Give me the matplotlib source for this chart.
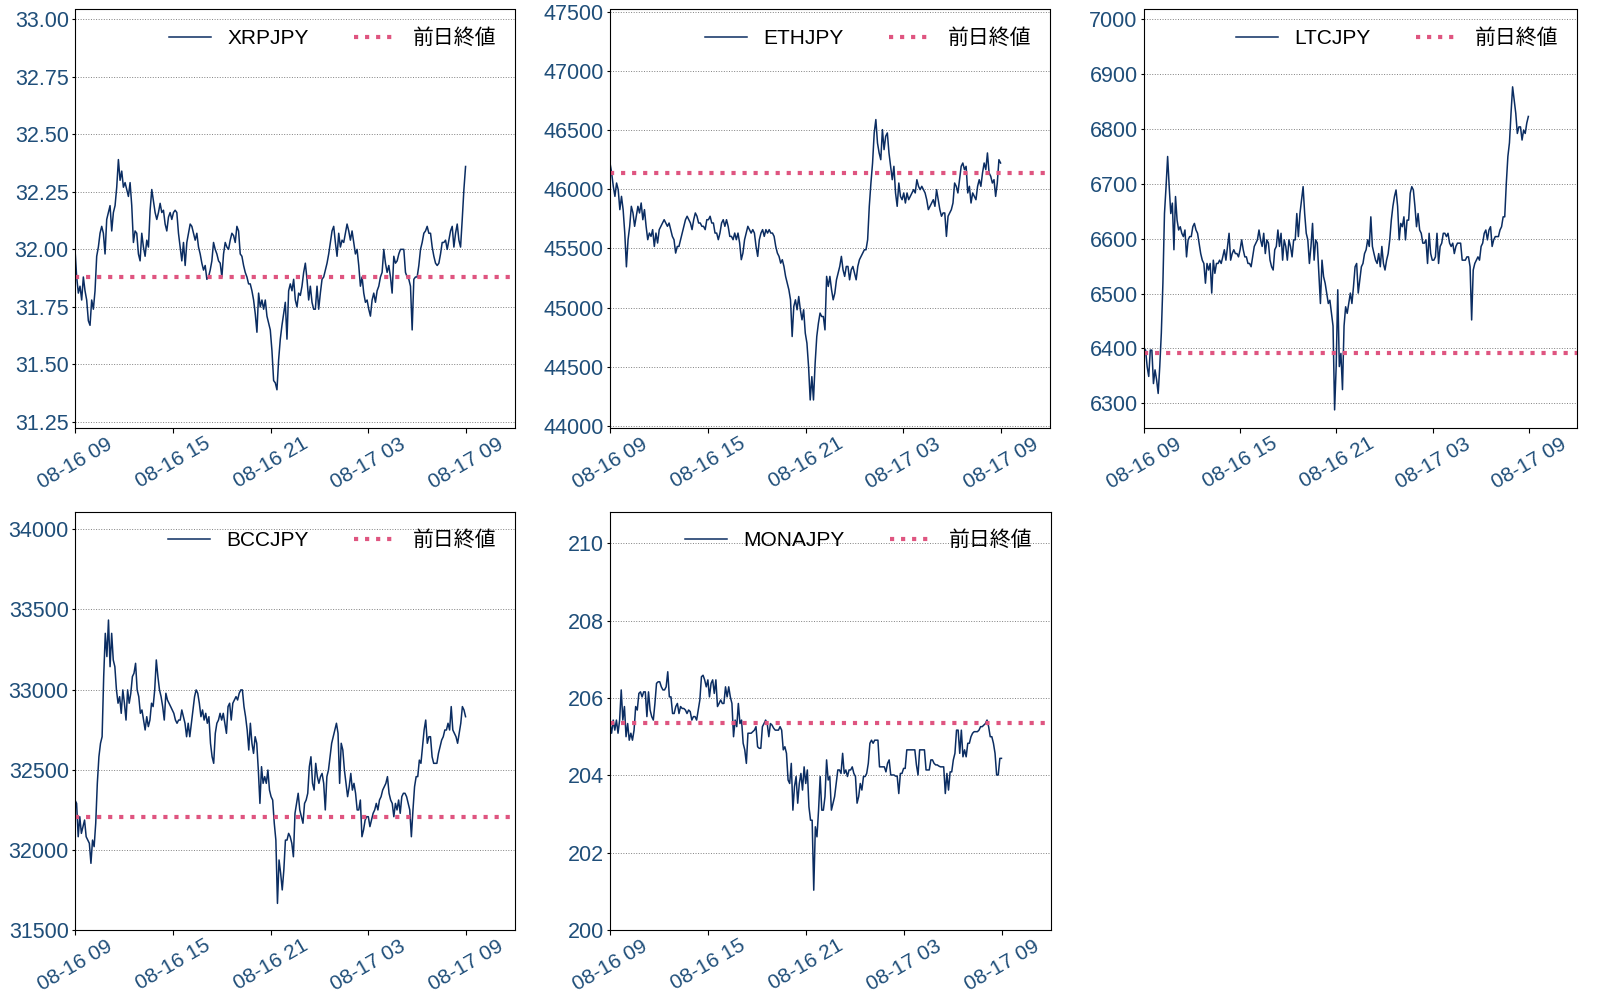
import matplotlib
matplotlib.use('Agg')
import matplotlib.pyplot as plt
import matplotlib.dates as mdates
from matplotlib.ticker import MultipleLocator, FormatStrFormatter
import pandas as pd

plt.rcParams['font.family'] = ['Liberation Sans', 'Noto Sans CJK JP', 'DejaVu Sans']

START = '2017-08-16 09:00'
END = '2017-08-17 08:58'

pairs = ['XRPJPY', 'ETHJPY', 'LTCJPY', 'BCCJPY', 'MONAJPY']

xrp = [32.00, 31.88, 31.81, 31.84, 31.78, 31.88, 31.82, 31.78, 31.69, 31.67,
       31.78, 31.74, 31.82, 31.97, 32.01, 32.07, 32.10, 32.07, 31.98, 32.13,
       32.16, 32.19, 32.08, 32.16, 32.19, 32.27, 32.39, 32.30, 32.34, 32.27,
       32.29, 32.26, 32.23, 32.29, 32.19, 32.03, 32.08, 32.07, 31.98, 31.95,
       32.07, 32.01, 31.97, 32.04, 32.01, 32.17, 32.26, 32.21, 32.16, 32.13,
       32.16, 32.20, 32.16, 32.17, 32.11, 32.08, 32.14, 32.16, 32.13, 32.16,
       32.17, 32.16, 32.07, 32.01, 31.95, 32.03, 31.93, 32.03, 32.07, 32.11,
       32.10, 32.07, 32.04, 32.07, 32.01, 31.98, 31.94, 31.91, 31.93, 31.87,
       31.88, 31.91, 31.95, 32.03, 32.00, 31.98, 31.95, 31.94, 31.88, 31.98,
       32.03, 32.01, 32.00, 32.04, 32.07, 32.06, 32.03, 32.10, 32.08, 31.98,
       31.97, 31.93, 31.90, 31.88, 31.85, 31.85, 31.82, 31.78, 31.72, 31.64,
       31.81, 31.75, 31.78, 31.74, 31.78, 31.71, 31.68, 31.65, 31.56, 31.43,
       31.42, 31.39, 31.52, 31.61, 31.67, 31.72, 31.77, 31.61, 31.82, 31.85,
       31.82, 31.87, 31.78, 31.75, 31.81, 31.80, 31.84, 31.90, 31.94, 31.87,
       31.78, 31.84, 31.77, 31.74, 31.74, 31.84, 31.74, 31.81, 31.87, 31.88,
       31.91, 31.94, 31.98, 32.03, 32.08, 32.10, 32.03, 31.97, 32.07, 32.01,
       32.04, 32.03, 32.07, 32.11, 32.08, 32.04, 32.08, 32.03, 31.98, 32.00,
       31.93, 31.84, 31.88, 31.81, 31.77, 31.78, 31.74, 31.71, 31.78, 31.81,
       31.77, 31.82, 31.84, 31.88, 31.90, 32.00, 31.94, 31.90, 31.93, 31.88,
       31.81, 31.97, 31.94, 31.95, 31.98, 32.00, 32.00, 32.00, 31.90, 31.88,
       31.87, 31.84, 31.65, 31.87, 31.88, 31.88, 31.93, 32.00, 32.03, 32.07,
       32.08, 32.10, 32.07, 32.07, 32.01, 31.97, 31.94, 31.93, 31.94, 31.98,
       32.03, 32.03, 32.04, 32.00, 32.04, 32.08, 32.10, 32.01, 32.07, 32.11,
       32.04, 32.01, 32.13, 32.26, 32.36]

eth = [46222, 46138, 46025, 45940, 46053, 45997, 45828, 45940, 45828, 45630,
       45345, 45574, 45687, 45856, 45800, 45687, 45772, 45856, 45800, 45884,
       45743, 45828, 45687, 45574, 45630, 45602, 45659, 45517, 45630, 45546,
       45659, 45687, 45715, 45743, 45715, 45687, 45715, 45659, 45602, 45574,
       45461, 45517, 45517, 45574, 45630, 45687, 45743, 45772, 45743, 45715,
       45659, 45743, 45800, 45772, 45715, 45715, 45687, 45687, 45659, 45743,
       45743, 45772, 45715, 45715, 45630, 45630, 45574, 45630, 45715, 45743,
       45687, 45743, 45687, 45602, 45602, 45574, 45630, 45574, 45630, 45546,
       45405, 45461, 45574, 45630, 45687, 45659, 45630, 45659, 45630, 45517,
       45433, 45574, 45630, 45659, 45602, 45659, 45630, 45659, 45630, 45630,
       45602, 45517, 45461, 45433, 45376, 45405, 45348, 45264, 45207, 45151,
       45066, 44756, 45010, 45066, 44982, 45094, 44982, 44897, 44982, 44784,
       44700, 44502, 44220, 44417, 44220, 44530, 44756, 44869, 44954, 44925,
       44925, 44812, 45264, 45179, 45264, 45151, 45066, 45122, 45235, 45292,
       45348, 45433, 45320, 45264, 45348, 45348, 45235, 45320, 45348, 45292,
       45235, 45348, 45405, 45433, 45461, 45489, 45489, 45574, 45856, 46053,
       46222, 46476, 46589, 46391, 46307, 46250, 46504, 46335, 46448, 46476,
       46307, 46194, 46081, 46194, 45969, 45856, 46053, 45940, 45912, 45969,
       45884, 45969, 45912, 45940, 45969, 45997, 45969, 46081, 46025, 45997,
       46025, 45997, 45969, 45912, 45828, 45856, 45884, 45912, 45856, 45997,
       45912, 45828, 45772, 45800, 45800, 45602, 45772, 45800, 45828, 45884,
       46053, 46025, 45969, 46081, 46194, 46222, 46166, 46194, 45969, 46025,
       45884, 45969, 45940, 45912, 46025, 46081, 46025, 46138, 46222, 46166,
       46307, 46138, 46110, 46053, 46081, 45940, 46053, 46250, 46222]

ltc = [6400, 6397, 6367, 6349, 6397, 6397, 6336, 6361, 6343, 6318,
       6367, 6428, 6519, 6646, 6695, 6750, 6695, 6646, 6665, 6580,
       6677, 6634, 6616, 6622, 6610, 6604, 6616, 6567, 6598, 6604,
       6604, 6622, 6628, 6616, 6610, 6592, 6573, 6561, 6555, 6519,
       6555, 6543, 6555, 6501, 6561, 6537, 6555, 6555, 6561, 6555,
       6567, 6580, 6561, 6586, 6610, 6561, 6573, 6580, 6573, 6573,
       6567, 6580, 6598, 6580, 6567, 6567, 6555, 6555, 6549, 6567,
       6586, 6592, 6598, 6616, 6598, 6586, 6610, 6573, 6598, 6592,
       6561, 6549, 6543, 6580, 6586, 6616, 6586, 6610, 6561, 6598,
       6586, 6561, 6598, 6586, 6567, 6598, 6598, 6646, 6604, 6646,
       6671, 6695, 6646, 6610, 6598, 6555, 6586, 6628, 6561, 6598,
       6592, 6537, 6482, 6561, 6531, 6519, 6501, 6482, 6488, 6464,
       6441, 6288, 6367, 6507, 6367, 6391, 6325, 6441, 6476, 6464,
       6482, 6501, 6482, 6513, 6549, 6555, 6501, 6525, 6549, 6555,
       6573, 6580, 6598, 6586, 6640, 6586, 6573, 6561, 6555, 6573,
       6549, 6586, 6555, 6543, 6561, 6573, 6598, 6634, 6659, 6677,
       6689, 6659, 6598, 6628, 6622, 6640, 6598, 6634, 6634, 6683,
       6695, 6689, 6659, 6622, 6646, 6616, 6610, 6592, 6592, 6598,
       6555, 6610, 6573, 6561, 6561, 6567, 6610, 6555, 6586, 6592,
       6610, 6610, 6604, 6610, 6592, 6586, 6592, 6573, 6586, 6592,
       6592, 6592, 6561, 6561, 6561, 6567, 6567, 6549, 6452, 6543,
       6555, 6561, 6567, 6561, 6586, 6592, 6610, 6616, 6598, 6616,
       6622, 6586, 6598, 6604, 6604, 6604, 6616, 6622, 6640, 6640,
       6701, 6750, 6775, 6829, 6877, 6853, 6829, 6792, 6804, 6804,
       6780, 6798, 6792, 6811, 6823]

bcc = [32311, 32290, 32082, 32207, 32103, 32145, 32186, 32082, 32061, 32041,
       31916, 32061, 32020, 32166, 32415, 32581, 32665, 32706, 33081, 33351,
       33206, 33434, 33143, 33351, 33185, 33143, 32998, 32915, 32956, 32852,
       32998, 32915, 32810, 32998, 32915, 32977, 33081, 33102, 33164, 32998,
       32956, 32852, 32873, 32810, 32748, 32831, 32769, 32810, 32915, 32894,
       32998, 33185, 33081, 32998, 32956, 32894, 32810, 32977, 32935, 32915,
       32894, 32873, 32852, 32810, 32790, 32810, 32810, 32873, 32831, 32790,
       32706, 32790, 32706, 32790, 32873, 32956, 32998, 32977, 32915, 32831,
       32873, 32810, 32852, 32790, 32831, 32665, 32581, 32540, 32727, 32790,
       32810, 32852, 32810, 32852, 32790, 32727, 32894, 32915, 32810, 32915,
       32935, 32956, 32935, 32977, 32998, 32998, 32894, 32831, 32748, 32623,
       32790, 32665, 32602, 32706, 32665, 32498, 32290, 32519, 32415, 32457,
       32415, 32498, 32373, 32332, 32311, 32166, 32061, 31666, 31937, 31854,
       31750, 31874, 32061, 32061, 32103, 32082, 32041, 31957, 32228, 32290,
       32353, 32249, 32207, 32166, 32290, 32311, 32353, 32519, 32581, 32415,
       32373, 32540, 32457, 32415, 32457, 32477, 32415, 32249, 32457, 32498,
       32581, 32665, 32706, 32748, 32790, 32727, 32415, 32665, 32623, 32498,
       32415, 32332, 32394, 32477, 32373, 32415, 32353, 32249, 32249, 32311,
       32082, 32124, 32186, 32207, 32207, 32145, 32186, 32228, 32249, 32290,
       32249, 32311, 32332, 32373, 32394, 32415, 32457, 32353, 32311, 32290,
       32207, 32290, 32249, 32311, 32228, 32332, 32353, 32353, 32332, 32290,
       32249, 32082, 32249, 32394, 32457, 32457, 32560, 32540, 32644, 32748,
       32810, 32665, 32706, 32706, 32581, 32540, 32540, 32540, 32602, 32644,
       32685, 32706, 32748, 32748, 32790, 32748, 32894, 32748, 32727, 32706,
       32665, 32727, 32790, 32894, 32873, 32831]

mona = [205.34, 205.09, 205.43, 205.17, 205.43, 205.09, 205.43, 206.21, 205.43, 205.78,
        205.00, 205.34, 204.91, 205.09, 204.91, 205.17, 205.78, 205.69, 206.12, 206.16,
        206.03, 206.16, 206.16, 205.52, 206.16, 205.69, 205.52, 205.43, 205.86, 206.38,
        206.42, 206.42, 206.29, 206.21, 206.21, 206.29, 206.68, 206.03, 206.03, 205.60,
        205.60, 205.78, 205.86, 205.60, 205.78, 205.73, 205.73, 205.69, 205.60, 205.69,
        205.65, 205.43, 205.52, 205.52, 205.43, 205.69, 205.95, 206.55, 206.59, 206.47,
        206.29, 206.47, 206.03, 206.38, 206.47, 206.12, 206.47, 205.78, 205.86, 205.95,
        205.86, 205.86, 206.29, 206.03, 206.29, 206.03, 205.86, 205.00, 205.43, 205.26,
        205.86, 205.34, 205.43, 204.83, 204.66, 204.31, 205.09, 205.09, 205.09, 205.13,
        205.17, 205.26, 204.74, 204.70, 204.70, 205.26, 205.34, 205.43, 205.34, 205.00,
        205.34, 205.30, 205.22, 205.17, 205.17, 205.17, 205.26, 205.17, 204.66, 204.74,
        204.57, 203.88, 203.79, 204.31, 203.10, 203.71, 203.97, 203.28, 203.79, 204.05,
        203.62, 204.22, 203.79, 204.14, 203.19, 202.84, 202.84, 201.03, 202.67, 202.41,
        203.10, 203.97, 203.10, 203.10, 203.45, 204.40, 203.88, 203.97, 203.10, 203.28,
        203.45, 203.79, 204.14, 204.14, 204.05, 204.57, 204.05, 204.14, 203.97, 204.14,
        204.14, 204.22, 204.05, 203.97, 203.28, 203.45, 203.79, 203.62, 203.97, 203.97,
        204.05, 204.31, 204.83, 204.91, 204.83, 204.91, 204.91, 204.91, 204.22, 204.22,
        204.22, 204.22, 204.09, 204.31, 204.40, 204.01, 204.01, 204.01, 203.98, 203.98,
        203.53, 204.05, 204.05, 204.18, 204.18, 204.66, 204.66, 204.66, 204.66, 204.66,
        204.66, 204.27, 204.01, 204.66, 204.66, 204.66, 204.66, 204.14, 204.14, 204.14,
        204.40, 204.40, 204.31, 204.27, 204.27, 204.24, 204.22, 204.22, 204.22, 203.53,
        204.05, 203.62, 204.09, 204.09, 204.40, 204.57, 205.17, 205.17, 204.57, 205.17,
        204.48, 204.66, 204.48, 204.83, 204.83, 205.00, 205.09, 205.13, 205.13, 205.13,
        205.17, 205.26, 205.26, 205.30, 205.34, 205.43, 205.26, 205.00, 205.00, 204.83,
        204.57, 204.01, 204.01, 204.44, 204.44]

series = [xrp, eth, ltc, bcc, mona]
prev_close = [31.88, 46140, 6392, 32205, 205.36]
ylims = [(31.224, 33.042), (43983, 47519), (6255, 7018), (31500, 34110), (200, 210.82)]
ystep = [0.25, 500, 100, 500, 2]
yfmt = ['%.2f', '%d', '%d', '%d', '%d']

LINE = '#0b2d62'
PINK = '#df5580'
TICK = '#1f4e79'

fig = plt.figure(figsize=(16, 9.94), dpi=100)

# axes boxes in pixels: left, top, width, height
boxes = [(75, 9.5, 440, 418.5), (610, 9.5, 440, 418.5), (1144, 9.5, 433, 418.5),
         (75, 511.7, 440, 418.3), (610, 511.7, 441, 418.3)]

for i, pair in enumerate(pairs):
    l, t, w, h = boxes[i]
    ax = fig.add_axes([l / 1600, 1 - (t + h) / 994, w / 1600, h / 994])
    idx = pd.date_range(START, END, periods=len(series[i]))
    ax.plot(idx, series[i], color=LINE, lw=1.1, label=pair)
    ax.axhline(prev_close[i], color=PINK, ls=':', lw=3, label='前日終値')

    ax.set_xlim(pd.Timestamp('2017-08-16 09:00'), pd.Timestamp('2017-08-17 12:00'))
    ax.set_ylim(*ylims[i])
    ax.yaxis.set_major_locator(MultipleLocator(ystep[i]))
    ax.yaxis.set_major_formatter(FormatStrFormatter(yfmt[i]))
    ax.xaxis.set_major_locator(mdates.HourLocator(byhour=[3, 9, 15, 21]))
    ax.xaxis.set_major_formatter(mdates.DateFormatter('%m-%d %H'))
    ax.yaxis.grid(True, linestyle=':', color='gray', lw=0.7)

    ax.tick_params(axis='y', labelsize=15.5, labelcolor=TICK, length=2.5, pad=2)
    ax.tick_params(axis='x', labelsize=15, labelcolor=TICK, length=3.5, pad=1)
    plt.setp(ax.get_xticklabels(), rotation=30)

    ax.legend(loc='upper right', ncol=2, frameon=False, fontsize=15,
              columnspacing=2.2)

fig.savefig('out.png', dpi=100)
